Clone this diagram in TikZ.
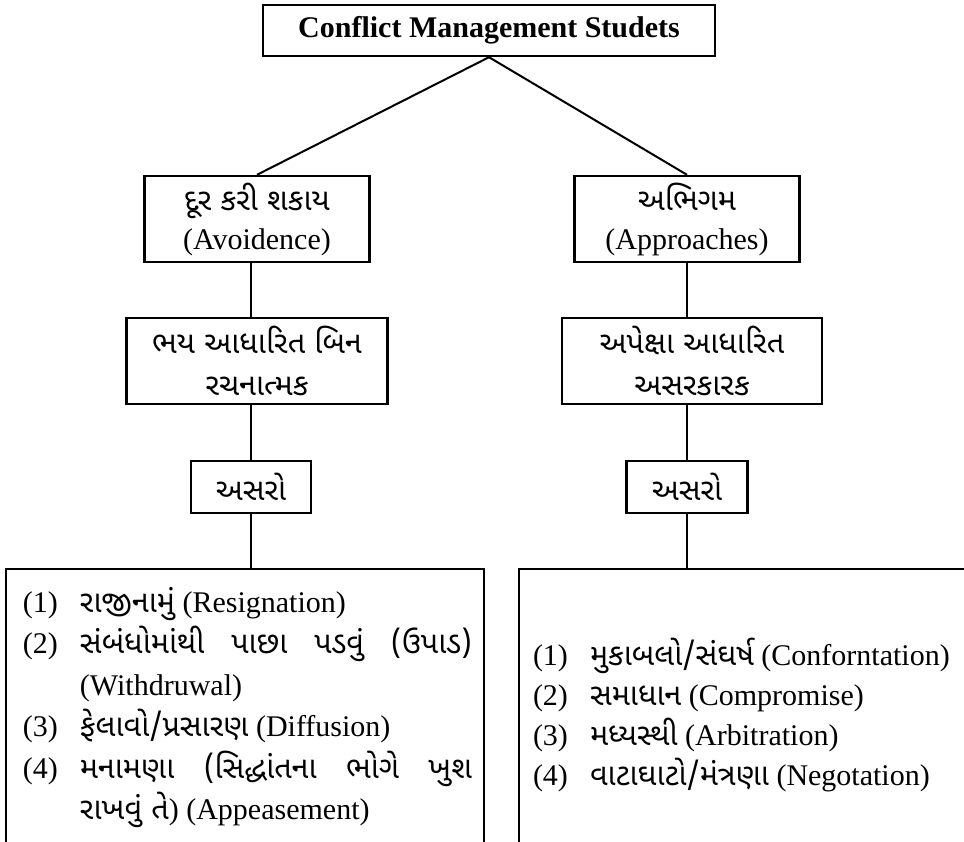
\documentclass[tikz,border=0pt]{standalone}
\usepackage{fontspec}
\setmainfont{Liberation Serif}
\newfontfamily\guj[Script=Gujarati,Scale=1.02]{Noto Sans Gujarati UI}

\begin{document}
\begin{tikzpicture}[x=1pt,y=-1pt,line width=2pt]
  \tikzstyle{every node}=[font=\fontsize{30}{39}\selectfont]
  \tikzstyle{box}=[draw=black,line width=2.4pt,align=center,inner sep=0pt]
  \tikzstyle{gtext}=[font=\fontsize{30}{42}\selectfont\guj]

  \useasboundingbox (0,0) rectangle (964,841);
  \clip (0,0) rectangle (964,841);

  \node[box, minimum width=452, minimum height=51] (T0) at (489,30.5) {\textbf{Conflict Management Studets}};
  \node[box, minimum width=225, minimum height=86] (L1) at (257,219) {{\guj દૂર કરી શકાય}\\(Avoidence)};
  \node[box, minimum width=225, minimum height=86] (R1) at (687,219) {{\guj અભિગમ}\\(Approaches)};
  \node[box, gtext, minimum width=261, minimum height=86] (L2) at (257,361) {ભય આધારિત બિન\\રચનાત્મક};
  \node[box, gtext, minimum width=260, minimum height=86] (R2) at (692,361) {અપેક્ષા આધારિત\\અસરકારક};
  \node[box, gtext, minimum width=120, minimum height=52] (L3) at (251,487) {અસરો};
  \node[box, gtext, minimum width=121, minimum height=52] (R3) at (687,487) {અસરો};
  \node[box, minimum width=478, minimum height=340, anchor=north west] (L4) at (5,568) {};
  \node[box, minimum width=480, minimum height=340, anchor=north west] (R4) at (518,568) {};

  \node[anchor=north west, inner sep=0pt, font=\fontsize{30}{41.5}\selectfont] (L5) at (22,582) {%
    \begin{tabular}{@{}p{57pt}@{}l@{}}
      (1) & {\guj રાજીનામું} (Resignation)\\
      (2) & \makebox[392pt][s]{\guj સંબંધોમાંથી પાછા પડવું (ઉપાડ)}\\
          & (Withdruwal)\\
      (3) & {\guj ફેલાવો/પ્રસારણ} (Diffusion)\\
      (4) & \makebox[392pt][s]{\guj મનામણા (સિદ્ધાંતના ભોગે ખુશ}\\
          & {\guj રાખવું તે}) (Appeasement)
    \end{tabular}};
  \node[anchor=north west, inner sep=0pt, font=\fontsize{30}{40}\selectfont] (R5) at (532,636) {%
    \begin{tabular}{@{}p{57pt}@{}l@{}}
      (1) & {\guj મુકાબલો/સંઘર્ષ} (Conforntation)\\
      (2) & {\guj સમાધાન} (Compromise)\\
      (3) & {\guj મધ્યસ્થી} (Arbitration)\\
      (4) & {\guj વાટાઘાટો/મંત્રણા} (Negotation)
    \end{tabular}};

  \draw (T0.south) -- (L1.north);
  \draw (T0.south) -- (R1.north);
  \draw (L1.south -| L3) -- (L2.north -| L3);
  \draw (L2.south -| L3) -- (L3.north);
  \draw (L3.south) -- (L3.south |- L4.north);
  \draw (R1.south) -- (R1.south |- R2.north);
  \draw (R2.south -| R3) -- (R3.north);
  \draw (R3.south) -- (R3.south |- R4.north);
\end{tikzpicture}
\end{document}
